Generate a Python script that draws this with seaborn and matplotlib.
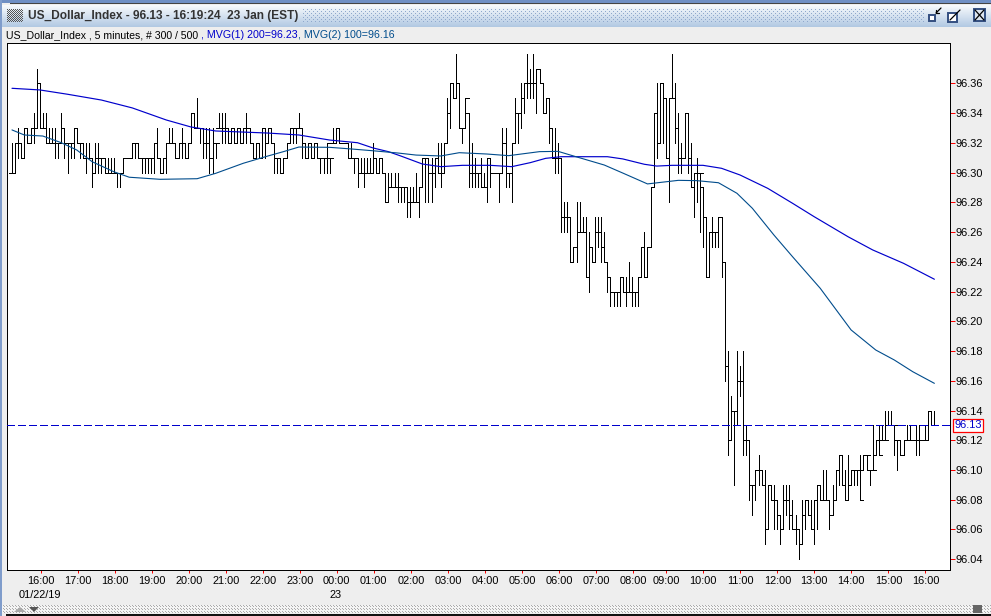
# -*- coding: utf-8 -*-
"""
US dollar index 5 minute bars with two moving averages
"""
import numpy as np
import pandas as pd
import matplotlib
matplotlib.use("Agg")
import matplotlib.pyplot as plt
from matplotlib.patches import Rectangle, Polygon
import seaborn as sns

# bar values in hundredths above 96.00, one row is 12 bars
highs = [32,32,33,32,33,33,33,34,37,36,34,34,
         33,33,33,32,34,33,32,32,33,33,32,32,
         32,32,31,32,32,31,31,31,31,31,30,30,
         31,31,31,32,32,32,31,31,31,31,32,33,
         31,31,32,33,33,32,32,33,32,32,34,34,
         35,33,33,33,33,33,32,34,34,34,33,33,
         33,33,33,33,34,33,32,32,32,33,33,33,
         33,32,31,31,31,32,33,33,33,34,33,32,
         32,32,32,32,31,31,32,31,33,33,33,32,
         32,32,32,31,31,31,31,31,31,32,31,31,
         31,30,30,30,30,30,29,29,29,29,29,30,
         29,31,31,31,31,31,32,32,32,35,36,36,
         38,36,33,35,34,32,31,30,31,30,31,31,
         30,30,30,33,33,30,32,35,34,36,36,38,
         37,38,37,37,36,35,35,33,33,32,31,28,
         28,27,25,28,28,27,27,26,25,27,27,27,
         26,24,23,22,22,23,23,23,24,23,22,23,
         25,26,25,29,34,36,36,36,35,35,38,36,
         34,32,34,34,32,30,31,30,29,27,26,27,
         26,27,27,24,18,15,14,18,17,18,13,12,
         9,10,11,10,10,9,9,9,8,7,9,9,
         9,8,7,6,8,8,8,8,8,9,9,10,
         10,8,9,10,11,11,10,11,10,10,10,11,
         11,11,10,13,12,13,13,14,14,14,13,12,
         12,12,13,13,12,13,13,12,13,14,14,14]
lows = [30,30,31,31,31,32,32,32,33,33,33,32,
        32,32,31,31,32,31,30,31,31,32,31,31,
        30,31,29,30,30,30,30,30,30,30,29,29,
        30,31,31,31,31,31,30,30,30,30,30,31,
        30,30,30,32,32,31,31,31,31,31,32,33,
        33,32,31,31,30,30,31,33,32,32,32,32,
        32,32,32,32,32,32,31,31,31,31,31,32,
        32,30,30,30,30,31,32,32,32,33,31,31,
        31,31,31,31,30,30,30,30,32,32,32,32,
        32,31,31,30,29,30,29,30,30,30,30,30,
        30,28,28,29,29,28,28,28,27,27,28,28,
        27,29,28,28,28,29,30,29,30,32,33,35,
        35,33,32,33,29,29,29,29,29,29,28,29,
        30,30,28,30,29,29,28,32,32,33,34,35,
        35,35,34,36,34,34,32,31,30,30,26,26,
        26,24,24,24,26,26,23,22,24,24,25,24,
        24,22,21,21,21,21,22,21,22,21,21,21,
        23,23,23,25,29,31,32,32,31,28,35,32,
        30,30,31,30,29,27,28,26,25,23,23,25,
        25,25,23,16,11,12,9,13,15,11,11,8,
        7,8,9,9,5,6,8,6,6,5,6,7,
        6,6,5,4,5,6,7,6,5,6,8,8,
        8,6,7,8,9,9,8,8,9,9,9,8,
        10,10,9,10,11,11,12,12,13,13,11,10,
        11,11,12,12,12,11,11,12,12,12,13,13]
closes = [30,32,32,31,33,32,33,33,36,33,33,32,
          32,32,32,32,33,32,32,32,33,32,32,31,
          31,31,30,31,31,31,30,30,30,30,30,30,
          31,31,31,32,32,31,31,31,31,31,32,31,
          30,31,32,32,32,31,32,32,31,32,34,33,
          33,33,32,32,31,32,32,33,33,33,32,33,
          32,33,32,33,33,32,31,32,31,33,32,33,
          32,31,31,30,31,32,33,33,33,33,32,31,
          32,31,32,31,31,31,32,31,32,33,32,32,
          32,31,31,31,30,30,30,30,30,31,30,31,
          30,28,29,29,29,29,29,29,28,28,28,28,
          29,31,31,30,30,31,30,30,32,34,36,35,
          36,33,33,35,30,30,30,30,29,29,31,30,
          30,30,30,32,30,30,32,34,34,35,36,36,
          36,36,37,36,34,35,33,31,31,31,27,27,
          27,24,25,26,26,26,23,25,24,26,26,25,
          24,23,22,22,22,23,22,22,22,22,22,23,
          25,23,25,29,34,32,36,35,31,35,35,33,
          31,31,34,31,29,30,30,30,27,23,26,26,
          26,27,24,17,12,14,14,16,16,12,12,9,
          9,10,10,9,6,9,8,8,7,6,8,8,
          7,6,6,5,7,8,7,6,8,9,8,8,
          8,7,8,10,11,9,8,9,10,10,10,8,
          11,11,10,10,12,11,12,12,13,13,13,12,
          11,12,12,12,12,12,12,12,12,14,13,13]

# moving averages, bar number and price
mvg1_bars = [0,9,18,29,39,50,58,66,83,93,103,112,117,122,126,133,139,146,155,162,
             168,173,178,193,198,205,209,214,224,230,236,245,253,260,271,279,289,299]
mvg1_vals = [96.3567,96.3556,96.3527,96.3488,96.3435,96.3354,96.3307,96.3280,96.3266,96.3253,
             96.3219,96.3201,96.3166,96.3141,96.3112,96.3058,96.3040,96.3049,96.3049,96.3040,
             96.3067,96.3096,96.3107,96.3107,96.3092,96.3056,96.3044,96.3049,96.3049,96.3029,
             96.2984,96.2894,96.2794,96.2704,96.2569,96.2480,96.2390,96.2283]
mvg2_bars = [0,4,10,16,21,26,33,38,48,60,66,75,83,88,93,103,110,117,125,131,139,145,154,161,
             171,177,182,192,198,206,216,222,229,235,240,247,253,262,272,280,286,292,299]
mvg2_vals = [96.3287,96.3253,96.3246,96.3201,96.3152,96.3073,96.3006,96.2969,96.2955,96.2959,
             96.2995,96.3063,96.3112,96.3141,96.3172,96.3170,96.3159,96.3147,96.3132,96.3118,
             96.3112,96.3134,96.3125,96.3114,96.3141,96.3143,96.3112,96.3051,96.2997,96.2924,
             96.2948,96.2946,96.2932,96.2861,96.2760,96.2580,96.2435,96.2222,96.1942,96.1807,
             96.1740,96.1661,96.1583]

hour_labels = ["16:00","17:00","18:00","19:00","20:00","21:00","22:00","23:00","00:00",
               "01:00","02:00","03:00","04:00","05:00","06:00","07:00","08:00","09:00",
               "10:00","11:00","12:00","13:00","14:00","15:00","16:00"]
hour_bars = [9.3,21.3,33.3,45.3,57.3,69.3,81.3,93.3,105.3,117.3,129.3,141.3,153.3,165.3,
             177.3,189.3,201.3,212.1,224.1,236.1,248.1,260.1,272.1,284.1,296.1]
price_ticks = [96.04,96.06,96.08,96.10,96.12,96.14,96.16,96.18,96.20,96.22,96.24,
               96.26,96.28,96.30,96.32,96.34,96.36]
last_price = 96.13

BLUE = "#0000CC"
TEAL = "#004C8C"
GREY = "#EEEEEE"
FONT = "Liberation Sans"
W, H = 991, 616
LW = 0.72  # one pixel at dpi 100

sns.set_theme(style="white")
plt.rcParams['font.family'] = [FONT, 'DejaVu Sans']


def dotted(ax, x0, x1, y0, y1, color, step=3):
    # little dot texture used on the window strips
    nx, ny = x1 - x0, y1 - y0
    yy, xx = np.mgrid[0:ny, 0:nx]
    rgba = np.zeros((ny, nx, 4))
    rgba[..., :3] = matplotlib.colors.to_rgb(color)
    rgba[..., 3] = ((xx % step == 0) & (yy % step == 0)) | ((xx % step == step // 2) & (yy % step == step // 2))
    ax.imshow(rgba, extent=(x0, x1, y1, y0), interpolation="nearest", aspect="auto", zorder=3)


fig = plt.figure(figsize=(W / 100, H / 100), dpi=100, facecolor=GREY)

# window furniture, drawn in pixel coordinates
chrome = fig.add_axes([0, 0, 1, 1], zorder=0)
chrome.set_xlim(0, W)
chrome.set_ylim(H, 0)
chrome.axis("off")
fade = np.linspace(0, 1, 22)[:, None, None]
grad = fade * np.array([[[0.70, 0.79, 0.89]]]) + (1 - fade) * np.array([[[0.97, 0.98, 0.99]]])
chrome.imshow(grad, extent=(2, W, 27, 5), aspect="auto", zorder=1)
chrome.add_patch(Rectangle((0, 0), W, 3, color="#6F8FC4", lw=0, zorder=2))
chrome.add_patch(Rectangle((10, 3), W - 10, 1, color="#444444", lw=0, zorder=2))
chrome.add_patch(Rectangle((0, 0), 2, H, color="#7F9CCB", lw=0, zorder=2))
chrome.add_patch(Rectangle((2, 605), W - 2, 8, color="#F4F4F4", lw=0, zorder=2))
chrome.add_patch(Rectangle((6, 614), W - 6, 2, color="#111111", lw=0, zorder=2))
dotted(chrome, 7, 23, 9, 22, "#555555", 2)
dotted(chrome, 303, 925, 9, 23, "#8FA8CC", 4)
dotted(chrome, 3, W, 605, 613, "#AAAAAA", 3)
chrome.set_xlim(0, W)
chrome.set_ylim(H, 0)

chrome.add_patch(Polygon([(14, 612), (20, 607), (26, 612)], color="#AAAAAA", lw=0, zorder=4))
chrome.add_patch(Polygon([(29, 607), (39, 607), (34, 612)], color="#555555", lw=0, zorder=4))
chrome.add_patch(Rectangle((973, 605), 9, 8, color="#666666", lw=0, zorder=4))

# title bar buttons
chrome.add_patch(Rectangle((929, 15), 6, 6, fc="white", ec="#334E80", lw=1.4, zorder=4))
chrome.plot([941, 936], [8, 13], color="black", lw=0.9, zorder=4)
chrome.plot([936, 939], [13, 13], color="black", lw=0.9, zorder=4)
chrome.plot([936, 936], [10, 13], color="black", lw=0.9, zorder=4)
chrome.add_patch(Rectangle((948, 13), 9, 9, fc="white", ec="#334E80", lw=1.4, zorder=4))
chrome.plot([950, 960], [20, 10], color="black", lw=0.9, zorder=5)
chrome.add_patch(Rectangle((974, 9), 11, 12, fc="#DDE4EE", ec="#334E80", lw=1.4, zorder=4))
chrome.plot([975, 984], [10, 20], color="black", lw=0.9, zorder=5)
chrome.plot([984, 975], [10, 20], color="black", lw=0.9, zorder=5)

chrome.text(28, 16.5, "US_Dollar_Index - 96.13 - 16:19:24  23 Jan (EST)", fontsize=8.6,
            fontweight="bold", color="#333333", va="center", ha="left", zorder=6)
chrome.text(6.5, 35, "US_Dollar_Index , 5 minutes, # 300 / 500", fontsize=7.6, color="black",
            va="center", ha="left", zorder=6)
chrome.text(201, 35, ", MVG(1) 200=96.23", fontsize=7.7, color=BLUE, va="center", ha="left", zorder=6)
chrome.text(298, 35, ", MVG(2) 100=96.16", fontsize=7.7, color=TEAL, va="center", ha="left", zorder=6)
chrome.text(40, 595, "01/22/19", fontsize=7.9, color="black", va="center", ha="center", zorder=6)
chrome.text(336, 595, "23", fontsize=7.9, color="black", va="center", ha="center", zorder=6)

# price panel
ax = fig.add_axes([6.5 / W, (H - 569.5) / H, 943 / W, 527 / H], zorder=1, facecolor="white")

high = 96 + np.array(highs) / 100
low = 96 + np.array(lows) / 100
close = 96 + np.array(closes) / 100
bars = np.arange(len(close))
opens = np.clip(np.r_[close[0], close[:-1]], low, high)

ranges = pd.DataFrame({"bar": np.r_[bars, bars], "price": np.r_[low, high]})
sns.lineplot(data=ranges, x="bar", y="price", units="bar", estimator=None, color="black",
             linewidth=LW, antialiased=False, legend=False, ax=ax, zorder=2)
ax.hlines(opens, bars - 1, bars, color="black", linewidth=LW, antialiased=False, zorder=2)
ax.hlines(close, bars, bars + 1, color="black", linewidth=LW, antialiased=False, zorder=2)

sns.lineplot(x=mvg1_bars, y=mvg1_vals, color=BLUE, linewidth=0.85, ax=ax, zorder=3)
sns.lineplot(x=mvg2_bars, y=mvg2_vals, color=TEAL, linewidth=0.8, ax=ax, zorder=3)

ax.axhline(last_price, color=BLUE, linewidth=LW, dashes=(8, 4), antialiased=False, zorder=4)

ax.set_xlim(-1.78, 303.9)
ax.set_ylim(96.0331, 96.3875)
ax.set_xlabel("")
ax.set_ylabel("")
ax.yaxis.tick_right()
ax.set_yticks(price_ticks)
ax.set_yticklabels(["%.2f" % p for p in price_ticks])
ax.set_xticks(hour_bars)
ax.set_xticklabels(hour_labels)
ax.tick_params(axis="y", which="major", left=False, right=True, length=3.5, width=LW, color="red",
               labelsize=7.9, labelcolor="black", pad=0.5)
ax.tick_params(axis="x", which="major", bottom=True, length=2, width=LW, color="red",
               labelsize=7.9, labelcolor="black", pad=2.5)
for side in ax.spines.values():
    side.set_color("black")
    side.set_linewidth(LW)

ax.annotate("%.2f" % last_price, xy=(1, last_price), xycoords=("axes fraction", "data"),
            xytext=(5, 0), textcoords="offset pixels", fontsize=7.9, color=BLUE, va="center", ha="left",
            bbox=dict(boxstyle="square,pad=0.12", fc="white", ec="red", lw=0.9), annotation_clip=False, zorder=5)

fig.savefig("out.png", dpi=100, facecolor=GREY)
